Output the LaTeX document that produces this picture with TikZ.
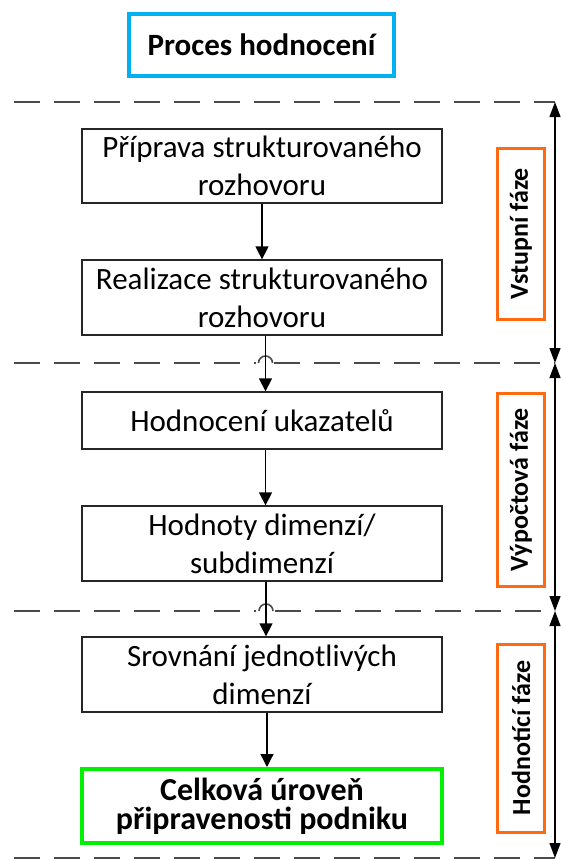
\documentclass[tikz,border=0pt]{standalone}
\usepackage{fontspec}
\setmainfont{Carlito}
\usetikzlibrary{arrows.meta}
\definecolor{titleblue}{HTML}{00B0F0}
\definecolor{phaseorange}{HTML}{FF6A10}
\definecolor{resultgreen}{HTML}{00F000}
\definecolor{sepgray}{HTML}{4A4A4A}
\begin{document}
\begin{tikzpicture}[x=1pt,y=-1pt,
  stepbox/.style={draw=black!85, line width=1.3pt, fill=white,
    minimum width=360pt, inner sep=0pt, align=center,
    font=\fontsize{31}{38}\selectfont},
  titlebox/.style={draw=titleblue, line width=4pt, fill=white,
    minimum width=265pt, minimum height=62pt, inner sep=0pt,
    font=\bfseries\fontsize{31}{34}\selectfont},
  resultbox/.style={draw=resultgreen, line width=4pt, fill=white,
    minimum width=360pt, minimum height=74pt, inner sep=0pt, align=center,
    font=\bfseries\fontsize{32}{29}\selectfont},
  phasebox/.style={draw=phaseorange, line width=3pt, fill=white,
    minimum height=47pt, inner sep=0pt, rotate=90,
    font=\bfseries\fontsize{26}{30}\selectfont},
  flow/.style={draw=black, line width=1.3pt, -{Triangle[length=13pt,width=13pt]}},
  span/.style={draw=black, line width=1.2pt,
    {Triangle[length=15pt,width=11pt]}-{Triangle[length=15pt,width=11pt]}},
  sep/.style={draw=sepgray, line width=1.6pt, dash pattern=on 26pt off 14pt},
  hop/.style={draw=sepgray, line width=1.6pt}
]
\useasboundingbox (0,0) rectangle (560,860);

% heading
\node[titlebox] (title) at (261.5,45) {Proces hodnocení};

% process steps
\node[stepbox, minimum height=74pt] (s1) at (262,166)
  {Příprava strukturovaného\\rozhovoru};
\node[stepbox, minimum height=75pt] (s2) at (262,297.5)
  {Realizace strukturovaného\\rozhovoru};
\node[stepbox, minimum height=57pt] (s3) at (262,420.5)
  {Hodnocení ukazatelů};
\node[stepbox, minimum height=75pt] (s4) at (262,543.5)
  {Hodnoty dimenzí/\\subdimenzí};
\node[stepbox, minimum height=75pt] (s5) at (262,674.5)
  {Srovnání jednotlivých\\dimenzí};
\node[resultbox] (s6) at (262,806)
  {Celková úroveň\\připravenosti podniku};

% phase boundaries on the right
\coordinate (p0) at (555,102);
\coordinate (p1) at (555,363);
\coordinate (p2) at (555,611);
\coordinate (p3) at (555,858);

% dashed separators, with hops where the flow crosses them
\draw[sep] (14,102) -- (p0);
\draw[sep] (14,363) -- (256,363);
\draw[hop] (258.5,363) arc[start angle=180, end angle=360, radius=7];
\draw[sep] (274,363) -- (p1);
\draw[sep] (14,611) -- (256,611);
\draw[hop] (259,611) arc[start angle=180, end angle=360, radius=7];
\draw[sep] (275,611) -- (p2);
\draw[sep] (14,858) -- (p3);

% flow arrows
\draw[flow] (s1.south) -- (s2.north);
\draw[flow] ([xshift=3.5pt]s2.south) -- ([xshift=3.5pt]s3.north);
\draw[flow] ([xshift=3.5pt]s3.south) -- ([xshift=3.5pt]s4.north);
\draw[flow] ([xshift=4pt]s4.south) -- ([xshift=4pt]s5.north);
\draw[flow] ([xshift=5pt]s5.south) -- ([xshift=5pt]s6.north);

% phase spans
\draw[span] (p0) -- (p1);
\draw[span] (p1) -- (p2);
\draw[span] (p2) -- (p3);

% phase labels
\node[phasebox, minimum width=171pt] (f1) at (521,233.5) {Vstupní fáze};
\node[phasebox, minimum width=193pt] (f2) at (521,489.5) {Výpočtová fáze};
\node[phasebox, minimum width=188pt] (f3) at (521,738) {Hodnotící fáze};
\end{tikzpicture}
\end{document}
